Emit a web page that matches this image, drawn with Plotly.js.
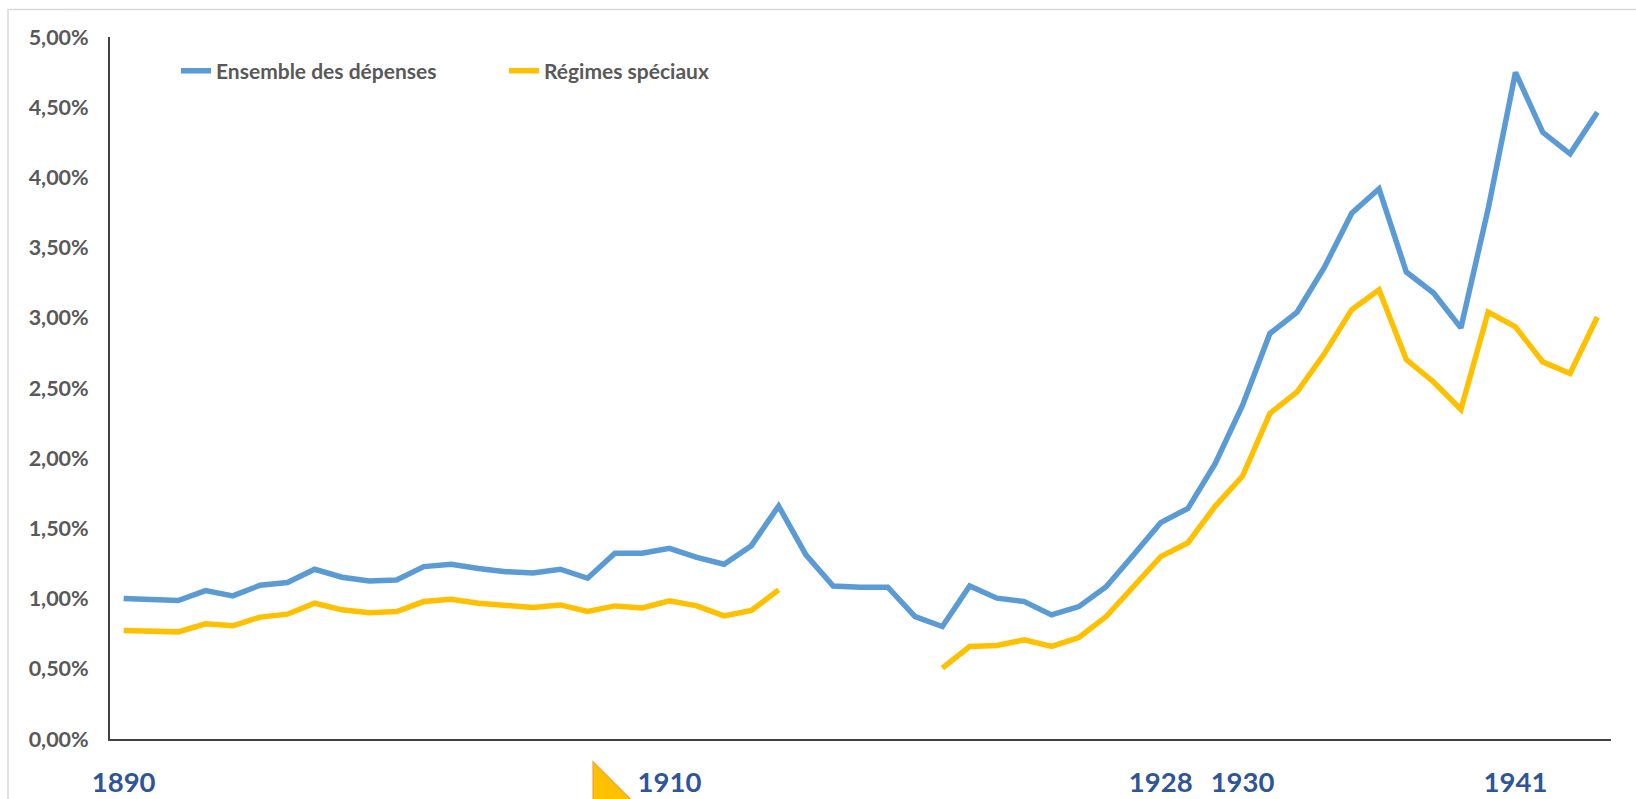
<!DOCTYPE html>
<html>
<head>
<meta charset="utf-8">
<script src="https://cdn.plot.ly/plotly-3.0.1.min.js"></script>
<style>
  html, body { margin: 0; padding: 0; background: #ffffff; }
  #chart { width: 1636px; height: 799px; }
</style>
</head>
<body>
<div id="chart"></div>
<script>
// Series (share, in %), one value per period on the category axis
const ensembleDepenses = [
  1.000, 0.991, 0.986, 1.057, 1.019, 1.095, 1.114, 1.209, 1.152, 1.126,
  1.133, 1.228, 1.245, 1.214, 1.192, 1.183, 1.209, 1.145, 1.323, 1.323,
  1.358, 1.294, 1.245, 1.377, 1.659, 1.311, 1.090, 1.081, 1.081, 0.872,
  0.801, 1.090, 1.003, 0.979, 0.884, 0.943, 1.085, 1.311, 1.541, 1.643,
  1.963, 2.378, 2.888, 3.041, 3.361, 3.745, 3.919, 3.326, 3.177, 2.928,
  3.777, 4.748, 4.321, 4.168, 4.464
];
const regimesSpeciaux = [
  0.772, 0.768, 0.763, 0.820, 0.806, 0.868, 0.889, 0.967, 0.920, 0.900,
  0.908, 0.979, 0.996, 0.967, 0.948, 0.936, 0.955, 0.908, 0.948, 0.934,
  0.984, 0.948, 0.877, 0.915, 1.062, null, null, null, null, null,
  0.505, 0.659, 0.666, 0.706, 0.659, 0.723, 0.872, 1.085, 1.299, 1.398,
  1.659, 1.873, 2.319, 2.472, 2.745, 3.058, 3.200, 2.703, 2.543, 2.347,
  3.041, 2.935, 2.686, 2.603, 3.006
];
const seriesNames = ['Ensemble des dépenses', 'Régimes spéciaux'];
const tickPositions = [0, 20, 38, 41, 51];
const tickLabels = ['1890', '1910', '1928', '1930', '1941'];
const yTicks = [0, 0.5, 1, 1.5, 2, 2.5, 3, 3.5, 4, 4.5, 5];
const yTickLabels = ['0,00%', '0,50%', '1,00%', '1,50%', '2,00%', '2,50%',
                     '3,00%', '3,50%', '4,00%', '4,50%', '5,00%'];

const periods = ensembleDepenses.map((_, i) => i);

const W = 1636, H = 799;
const M = { l: 110, r: 25, t: 36.5, b: 59.7 };
const PW = W - M.l - M.r, PH = H - M.t - M.b;
const px = v => (v - M.l) / PW;          // pixel -> paper x
const py = v => (H - M.b - v) / PH;      // pixel -> paper y

const traces = [
  {
    x: periods, y: ensembleDepenses, name: seriesNames[0],
    type: 'scatter', mode: 'lines',
    line: { color: '#5B9BD5', width: 5.5 }
  },
  {
    x: periods, y: regimesSpeciaux, name: seriesNames[1],
    type: 'scatter', mode: 'lines', connectgaps: false,
    line: { color: '#FFC000', width: 5.5 }
  }
];

const layout = {
  width: W, height: H,
  margin: M,
  paper_bgcolor: '#ffffff', plot_bgcolor: '#ffffff',
  showlegend: true,
  legend: {
    orientation: 'h', x: px(176), xanchor: 'left', y: py(50), yanchor: 'top',
    font: { family: 'Lato, "Open Sans", sans-serif', size: 21, color: '#595959', weight: 'bold' },
    entrywidth: 283, bgcolor: 'rgba(0,0,0,0)'
  },
  xaxis: {
    range: [-0.5, 54.5],
    tickmode: 'array', tickvals: tickPositions, ticktext: tickLabels,
    showgrid: false, zeroline: false,
    showline: true, linecolor: '#404040', linewidth: 2,
    ticks: '', ticklabelstandoff: 18,
    tickfont: { family: 'Lato, "Open Sans", sans-serif', size: 27.5, color: '#2F5597', weight: 'bold' },
    fixedrange: true
  },
  yaxis: {
    range: [0, 5],
    tickmode: 'array', tickvals: yTicks, ticktext: yTickLabels,
    showgrid: false, zeroline: false,
    showline: true, linecolor: '#404040', linewidth: 2,
    ticks: '', ticklabelstandoff: 15,
    tickfont: { family: 'Lato, "Open Sans", sans-serif', size: 21.5, color: '#595959', weight: 'bold' },
    fixedrange: true
  },
  shapes: [
    {
      type: 'rect', xref: 'paper', yref: 'paper',
      x0: px(8), x1: px(1680), y0: py(840), y1: py(9),
      line: { color: '#D9D9D9', width: 1.5 }, fillcolor: 'rgba(0,0,0,0)', layer: 'below'
    },
    {
      type: 'path', xref: 'paper', yref: 'paper',
      path: 'M ' + px(593) + ',' + py(762) + ' L ' + px(593) + ',' + py(830) +
            ' L ' + px(661) + ',' + py(830) + ' Z',
      fillcolor: '#FFC000', line: { color: '#F4A23A', width: 1.2 }
    }
  ]
};

Plotly.newPlot('chart', traces, layout, { displayModeBar: false, staticPlot: true });
</script>
</body>
</html>
